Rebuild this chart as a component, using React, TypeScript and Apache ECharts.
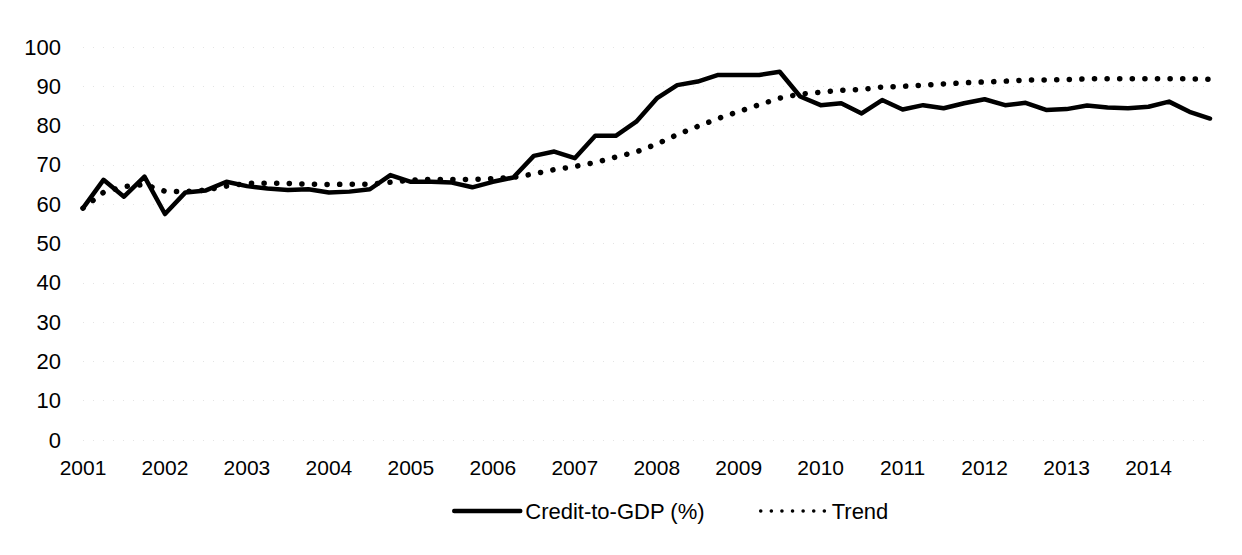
import React, { useEffect, useRef } from "react";
import * as echarts from "echarts";

const years = ["2001","2002","2003","2004","2005","2006","2007","2008","2009","2010","2011","2012","2013","2014"];
const quarters = years.flatMap((y) => [y + "Q1", y + "Q2", y + "Q3", y + "Q4"]);

const creditToGdp = [
  59.0, 66.2, 61.9, 67.0,
  57.5, 63.0, 63.5, 65.7,
  64.6, 64.0, 63.6, 63.8,
  63.0, 63.2, 63.8, 67.4,
  65.7, 65.7, 65.5, 64.3,
  65.7, 66.8, 72.3, 73.4,
  71.7, 77.4, 77.4, 81.0,
  86.9, 90.3, 91.2, 92.9,
  92.9, 92.9, 93.7, 87.4,
  85.2, 85.7, 83.1, 86.5,
  84.1, 85.2, 84.4, 85.7,
  86.7, 85.2, 85.8, 84.0,
  84.2, 85.1, 84.6, 84.4,
  84.8, 86.1, 83.5, 81.8,
];

const trend = [
  59.0, 63.0, 64.5, 65.0,
  63.3, 63.2, 63.6, 64.6,
  65.3, 65.3, 65.3, 65.1,
  65.0, 65.1, 65.1, 65.6,
  66.1, 66.3, 66.3, 66.3,
  66.5, 66.8, 67.7, 68.8,
  69.6, 70.6, 72.0, 73.3,
  75.3, 77.7, 79.8, 81.8,
  83.6, 85.3, 87.0, 88.0,
  88.5, 89.0, 89.2, 89.8,
  90.0, 90.3, 90.6, 90.9,
  91.1, 91.3, 91.6, 91.6,
  91.7, 91.9, 91.9, 91.9,
  91.9, 91.9, 91.9, 91.8,
];

const FONT = "'Liberation Sans', Arial, sans-serif";
const HIDDEN_SYMBOL = { color: "rgba(0,0,0,0)", borderColor: "rgba(0,0,0,0)", borderWidth: 0 };

export default function App() {
  const ref = useRef<HTMLDivElement>(null);
  useEffect(() => {
    if (!ref.current) return;
    const chart = echarts.init(ref.current, undefined, { renderer: "svg" });
    chart.setOption({
      animation: false,
      backgroundColor: "#ffffff",
      grid: { left: 83, right: 32, top: 47, bottom: 115, containLabel: false },
      xAxis: {
        type: "category",
        data: quarters,
        boundaryGap: false,
        axisLine: { show: false },
        axisTick: { show: false },
        splitLine: { show: false },
        axisLabel: {
          interval: 3,
          margin: 17,
          fontSize: 21,
          color: "#000",
          fontFamily: FONT,
          formatter: (v: string) => v.slice(0, 4),
        },
      },
      yAxis: {
        type: "value",
        min: 0,
        max: 100,
        interval: 10,
        axisLine: { show: false },
        axisTick: { show: false },
        splitLine: { show: true, lineStyle: { color: "#e4e4e4", type: [1, 9], width: 1 } },
        axisLabel: { fontSize: 22, color: "#000", margin: 22, fontFamily: FONT },
      },
      legend: {
        left: 447,
        top: 495,
        itemWidth: 66,
        itemHeight: 14,
        itemGap: 54,
        textStyle: { fontSize: 22, color: "#000", fontFamily: FONT },
        data: [
          {
            name: "Credit-to-GDP (%)",
            itemStyle: HIDDEN_SYMBOL,
            lineStyle: { width: 4.5, color: "#000", type: "solid" },
          },
          {
            name: "Trend",
            itemStyle: HIDDEN_SYMBOL,
            lineStyle: { width: 3.5, color: "#000", type: [0.1, 10.5], cap: "round" },
          },
        ],
      },
      series: [
        {
          name: "Credit-to-GDP (%)",
          type: "line",
          data: creditToGdp,
          symbol: "none",
          showSymbol: false,
          color: "#000",
          lineStyle: { color: "#000", width: 4.5, join: "round", cap: "round" },
        },
        {
          name: "Trend",
          type: "line",
          data: trend,
          symbol: "none",
          showSymbol: false,
          color: "#000",
          lineStyle: { color: "#000", width: 5.5, type: [0.1, 12.5], cap: "round" },
        },
      ],
    });
    return () => chart.dispose();
  }, []);
  return <div ref={ref} style={{ width: 1242, height: 555, margin: -8 }} />;
}
